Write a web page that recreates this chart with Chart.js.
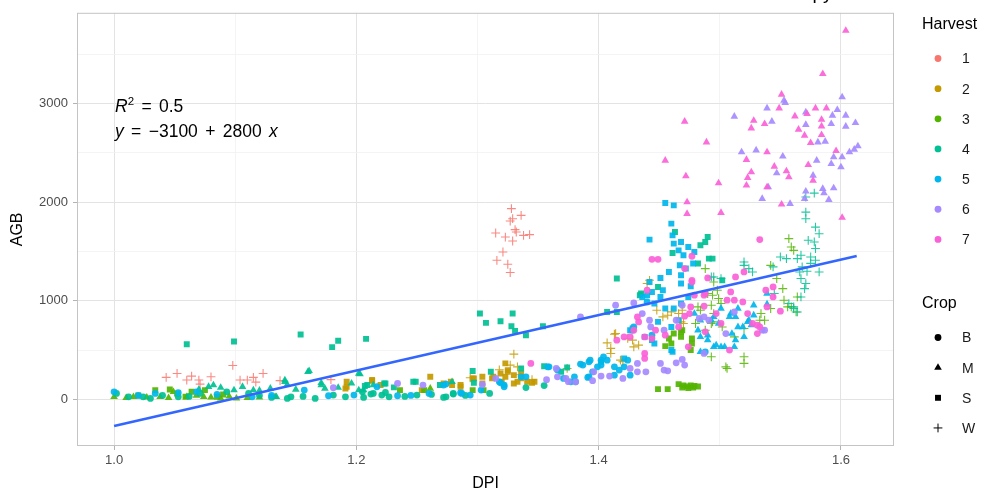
<!DOCTYPE html>
<html>
<head>
<meta charset="utf-8">
<script src="https://cdn.jsdelivr.net/npm/chart.js@4/dist/chart.umd.min.js"></script>
<style>
  html, body { margin: 0; padding: 0; background: #fff; overflow: hidden; }
  #wrap { position: relative; width: 995px; height: 496px; }
  #anno { position: absolute; left: 115px; top: 94px; font: 17.5px 'Liberation Sans', Arial, sans-serif; line-height: 25px; word-spacing: 2.5px; color: #000; }
  #anno sup { font-size: 11.5px; vertical-align: 7px; line-height: 0; }
  #title { position: absolute; left: 767px; top: -18px; font: 19px 'Liberation Sans', Arial, sans-serif; color: #000; white-space: nowrap; }
</style>
</head>
<body>
<div id="wrap">
  <canvas id="agbChart" width="995" height="496"></canvas>
  <div id="title">Canopy</div>
  <div id="anno"><i>R</i><sup>2</sup> = 0.5<br><i>y</i> = &minus;3100 + 2800 <i>x</i></div>
</div>
<script>
document.addEventListener('DOMContentLoaded', function() {

    // ==========================================
    // 1. DATA  (DPI, AGB) per harvest / crop
    // ==========================================
    const harvestColors = ['#F8766D', '#C49A00', '#53B400', '#00C094', '#00B6EB', '#A58AFF', '#FB61D7'];
    const harvestLabels = ['1', '2', '3', '4', '5', '6', '7'];
    const cropLabels = ['B', 'M', 'S', 'W'];

    const xMajorTicks = [1.0, 1.2, 1.4, 1.6];
    const xMinorTicks = [1.1, 1.3, 1.5];
    const yMajorTicks = [0, 1000, 2000, 3000];
    const yMinorTicks = [500, 1500, 2500, 3500];

    const h1W = [[1.043,223],[1.052,263],[1.060,196],[1.064,236],[1.070,196],[1.071,155],[1.080,229],[1.098,344],[1.104,196],[1.110,196],[1.115,223],[1.117,175],[1.123,263],[1.137,190],[1.179,200],
        [1.328,1935],[1.329,1833],[1.336,1867],[1.327,1809],[1.331,1722],[1.332,1698],[1.315,1688],[1.323,1647],[1.329,1607],[1.338,1664],[1.343,1671],[1.321,1495],[1.316,1411],[1.325,1371],[1.327,1287]];

    const h2S = [[1.192,128],[1.213,188],[1.220,145],[1.261,229],[1.272,162],[1.278,178],[1.286,128],[1.296,212],[1.304,162],[1.313,229],[1.279,145],[1.286,145],[1.297,213],[1.312,213],[1.319,263],[1.325,280],[1.330,246],[1.336,213],[1.341,178],[1.345,168],[1.330,162],[1.320,178],[1.323,365],[1.325,297],[1.333,178],[1.347,178],[1.323,229],[1.336,263],[1.304,229],[1.192,178],[1.191,111],[1.213,196],[1.254,94]];
    const h2W = [[1.294,219],[1.330,459],[1.327,348],[1.333,330],[1.318,300],[1.374,314],[1.407,573],[1.413,661],[1.410,466],[1.410,517],[1.418,398],[1.420,381],[1.424,618],[1.428,601],[1.429,533],[1.433,550],[1.442,1208],[1.440,1175],[1.448,905],[1.453,837],[1.457,854],[1.460,888],[1.466,871],[1.469,905],[1.470,770],[1.468,786],[1.414,668],[1.335,250],[1.345,200]];

    const h3S = [[1.034,94],[1.046,101],[1.059,26],[1.064,77],[1.075,94],[1.085,26],[1.052,60],[1.236,94],[1.256,94],[1.296,94],[1.305,94],[1.020,40],[1.090,50],
        [1.449,104],[1.457,104],[1.466,155],[1.470,140],[1.473,130],[1.476,140],[1.479,135],[1.469,120],[1.474,115],[1.478,120],[1.482,130],
        [1.460,567],[1.458,618],[1.468,685],[1.476,500],[1.477,567],[1.468,634],[1.462,668],[1.469,702],[1.477,618],[1.455,540]];
    const h3M = [[1.000,26],[1.016,26],[1.038,26],[1.049,77],[1.060,26],[1.074,26],[1.088,10],[1.101,10],[1.133,26],[1.261,111],[1.010,15],[1.027,20],[1.045,15],[1.068,40],[1.080,20],[1.095,30],[1.120,20],[1.110,15]];
    const h3W = [[1.557,1631],[1.559,1546],[1.561,1512],[1.547,1226],[1.552,1124],[1.564,1039],[1.553,1006],[1.559,938],[1.563,887],[1.534,871],[1.533,803],[1.542,922],[1.520,432],[1.505,330],[1.493,432],[1.494,786],[1.499,1023],[1.488,1327],[1.512,634],[1.520,719],[1.495,871],[1.502,735],[1.498,1107],[1.494,1057],[1.493,955],[1.501,972],[1.484,905],[1.480,770],[1.493,770],[1.488,702],[1.506,314],[1.520,365],[1.495,1191],[1.490,1074],[1.537,803],[1.542,1360],[1.556,938],[1.482,938]];

    const h4B = [[1.002,60],[1.012,26],[1.024,26],[1.030,10],[1.053,26],[1.071,60],[1.093,77],[1.111,60],[1.146,26],[1.143,10],[1.166,10],[1.191,26],[1.205,77],[1.214,60],[1.221,44],[1.224,70],[1.250,44],[1.181,44],[1.206,20],[1.212,54],[1.227,26],[1.274,26],[1.280,60],[1.040,40],[1.062,30],[1.120,40],[1.130,20],[1.156,30],[1.240,30],[1.262,50],[1.290,40],[1.310,60],[1.340,120],[1.355,140],[1.272,20],[1.280,54]];
    const h4M = [[1.078,128],[1.082,145],[1.099,94],[1.106,128],[1.115,94],[1.129,111],[1.141,178],[1.143,150],[1.160,280],[1.171,145],[1.174,111],[1.196,162],[1.202,263],[1.214,145],[1.206,94],[1.279,178],[1.134,26],[1.161,290],[1.171,168],[1.141,196],[1.203,256],[1.202,94],[1.070,100],[1.088,120],[1.120,90],[1.150,100],[1.185,120]];
    const h4S = [[1.060,560],[1.099,587],[1.154,658],[1.180,530],[1.185,594],[1.208,614],[1.207,135],[1.224,162],[1.231,122],[1.247,178],[1.302,871],[1.307,776],[1.319,793],[1.329,871],[1.328,742],[1.331,695],[1.340,651],[1.354,742],[1.296,287],[1.311,280],[1.336,314],[1.355,337],[1.374,324],[1.297,168],[1.369,280],[1.415,1226],[1.407,887],[1.415,887],[1.435,1074],[1.434,1057],[1.449,1141],[1.461,1485],[1.463,1698],[1.484,1563],[1.488,1597],[1.490,1647],[1.494,1428],[1.482,1378],[1.502,1208],[1.402,381],[1.491,1428],[1.249,178],[1.269,145],[1.209,145],[1.223,162]];
    const h4W = [[1.571,1900],[1.571,1833],[1.579,1748],[1.582,1681],[1.573,1614],[1.578,1597],[1.579,1530],[1.579,1411],[1.575,1445],[1.567,1462],[1.564,1428],[1.568,1344],[1.566,1293],[1.567,1226],[1.571,1175],[1.570,1124],[1.582,1293],[1.555,1428],[1.550,1445],[1.544,1344],[1.567,1039],[1.557,972],[1.561,938],[1.520,1394],[1.524,1327],[1.527,1293],[1.495,1242],[1.578,2093],[1.571,2053],[1.561,922],[1.564,887],[1.493,1242],[1.501,1226],[1.520,1360],[1.545,1074],[1.572,1300],[1.575,1380]];

    const h5B = [[1.000,77],[1.034,60],[1.053,67],[1.068,77],[1.114,26],[1.157,94],[1.177,37],[1.198,44],[1.217,128],[1.234,37],[1.272,145],[1.287,60],[1.294,44],[1.303,94],[1.318,178],[1.274,155],[1.286,67],[1.319,168],[1.322,128],[1.340,229],[1.359,330],[1.366,297],[1.381,178],[1.385,358],[1.391,223],[1.393,398],[1.399,330],[1.387,348],[1.380,229],[1.392,229],[1.402,348],[1.413,330],[1.417,297],[1.426,246],[1.377,178],[1.371,213],[1.358,330],[1.402,398],[1.407,398],[1.322,145],[1.336,229],[1.428,702],[1.444,651],[1.392,381],[1.395,280],[1.404,432],[1.421,330],[1.424,398],[1.413,246],[1.429,735],[1.440,989],[1.488,482],[1.020,40],[1.085,50],[1.130,40],[1.245,40],[1.260,60]];
    const h5M = [[1.539,1074],[1.539,965],[1.528,955],[1.528,854],[1.515,922],[1.513,837],[1.508,837],[1.501,922],[1.499,770],[1.493,803],[1.490,651],[1.497,550],[1.504,533],[1.513,601],[1.519,735],[1.524,803],[1.526,753],[1.515,735],[1.510,668],[1.512,533],[1.520,634],[1.484,634],[1.484,482],[1.495,533],[1.501,533],[1.495,837],[1.509,871],[1.523,786],[1.484,803],[1.482,702],[1.490,601],[1.479,871]];
    const h5S = [[1.455,1992],[1.462,1968],[1.460,1783],[1.442,1621],[1.461,1664],[1.462,1580],[1.468,1597],[1.466,1512],[1.470,1462],[1.474,1546],[1.479,1495],[1.478,1378],[1.467,1360],[1.472,1327],[1.458,1293],[1.451,1232],[1.468,1259],[1.468,1175],[1.476,1148],[1.442,1191],[1.444,1090],[1.453,1107],[1.451,1039],[1.440,1057],[1.436,1039],[1.474,1039],[1.446,972],[1.468,972],[1.462,922],[1.455,922],[1.466,803],[1.449,786],[1.460,735],[1.428,719],[1.438,634],[1.444,601],[1.446,567],[1.461,482],[1.421,415],[1.426,702],[1.460,500]];

    const h6B = [[1.181,118],[1.234,162],[1.255,145],[1.304,152],[1.315,213],[1.365,314],[1.366,229],[1.381,178],[1.402,236],[1.409,236],[1.420,213],[1.426,314],[1.432,280],[1.439,280],[1.432,365],[1.451,365],[1.454,297],[1.464,371],[1.469,405],[1.471,348],[1.385,837],[1.414,955],[1.429,979],[1.436,871],[1.443,735],[1.454,702],[1.464,803],[1.469,955],[1.483,821],[1.512,887],[1.537,702],[1.442,803],[1.491,803],[1.373,213],[1.396,280],[1.487,837],[1.505,668],[1.535,702],[1.487,466],[1.357,200],[1.375,180],[1.395,190],[1.457,290]];
    const h6M = [[1.554,3009],[1.553,3032],[1.601,3066],[1.539,2954],[1.512,2870],[1.543,2819],[1.571,2913],[1.597,2938],[1.593,2880],[1.604,2880],[1.571,2786],[1.592,2796],[1.604,2769],[1.612,2806],[1.581,2609],[1.587,2617],[1.518,2508],[1.530,2528],[1.552,2465],[1.580,2424],[1.594,2458],[1.601,2458],[1.607,2508],[1.611,2535],[1.614,2569],[1.592,2390],[1.600,2356],[1.547,2296],[1.577,2272],[1.540,2154],[1.571,2110],[1.585,2137],[1.594,2144],[1.586,2093],[1.535,2036],[1.558,1985],[1.570,2036],[1.590,2026]];

    const h7B = [[1.444,1421],[1.449,1421],[1.440,1107],[1.471,1327],[1.477,1208],[1.490,1232],[1.477,1452],[1.487,1057],[1.476,938],[1.471,844],[1.466,735],[1.447,702],[1.455,651],[1.432,837],[1.429,702],[1.421,634],[1.415,601],[1.426,634],[1.438,634],[1.438,466],[1.438,415],[1.474,533],[1.488,685],[1.497,871],[1.533,1621],[1.513,1242],[1.520,1293],[1.509,1090],[1.506,1006],[1.519,989],[1.538,1107],[1.544,1141],[1.544,1039],[1.539,938],[1.550,895],[1.527,770],[1.533,735],[1.531,668],[1.508,500],[1.488,1074],[1.487,945],[1.501,770],[1.477,1191],[1.479,1057],[1.475,871],[1.433,786],[1.444,618],[1.344,365],[1.512,1006],[1.523,871],[1.531,753]];
    const h7M = [[1.604,3741],[1.585,3302],[1.551,3093],[1.549,2954],[1.471,2819],[1.528,2829],[1.526,2751],[1.537,2796],[1.562,2873],[1.572,2897],[1.579,2954],[1.588,2954],[1.584,2839],[1.584,2771],[1.565,2738],[1.570,2677],[1.584,2684],[1.575,2603],[1.489,2609],[1.455,2424],[1.522,2431],[1.539,2508],[1.596,2522],[1.545,2363],[1.555,2316],[1.557,2255],[1.526,2306],[1.523,2249],[1.573,2380],[1.472,2265],[1.499,2194],[1.522,2171],[1.539,2154],[1.577,2221],[1.473,2002],[1.551,1978],[1.501,1894],[1.601,1844],[1.473,1884]];

    // fitted line at its two ends
    const fitLine = [[1.0,-270],[1.613,1455]];

    const series = [
        { h: 1, crop: 'W', pts: h1W },
        { h: 2, crop: 'S', pts: h2S }, { h: 2, crop: 'W', pts: h2W },
        { h: 3, crop: 'S', pts: h3S }, { h: 3, crop: 'M', pts: h3M }, { h: 3, crop: 'W', pts: h3W },
        { h: 4, crop: 'B', pts: h4B }, { h: 4, crop: 'M', pts: h4M }, { h: 4, crop: 'S', pts: h4S }, { h: 4, crop: 'W', pts: h4W },
        { h: 5, crop: 'B', pts: h5B }, { h: 5, crop: 'M', pts: h5M }, { h: 5, crop: 'S', pts: h5S },
        { h: 6, crop: 'B', pts: h6B }, { h: 6, crop: 'M', pts: h6M },
        { h: 7, crop: 'B', pts: h7B }, { h: 7, crop: 'M', pts: h7M }
    ];

    // ==========================================
    // 2. STYLE
    // ==========================================
    const FONT = "'Liberation Sans', Arial, sans-serif";
    const cropStyle = { B: 'circle', M: 'triangle', S: 'rect', W: 'cross' };
    const cropRadius = { B: 3.4, M: 4.4, S: 4.2, W: 4.4 };

    function withAlpha(hex, a) {
        const n = parseInt(hex.slice(1), 16);
        return `rgba(${n >> 16},${(n >> 8) & 255},${n & 255},${a})`;
    }

    const datasets = series.map(s => {
        const col = harvestColors[s.h - 1];
        const isCross = s.crop === 'W';
        return {
            label: `H${s.h} ${s.crop}`,
            data: s.pts.map(p => ({ x: p[0], y: p[1] })),
            pointStyle: cropStyle[s.crop],
            pointRadius: cropRadius[s.crop],
            backgroundColor: withAlpha(col, 0.92),
            borderColor: isCross ? withAlpha(col, 0.85) : 'rgba(0,0,0,0)',
            borderWidth: isCross ? 1.1 : 0,
            order: 10 - s.h
        };
    });

    datasets.push({
        type: 'line',
        label: 'fit',
        data: fitLine.map(p => ({ x: p[0], y: p[1] })),
        borderColor: '#3366FF',
        borderWidth: 2.6,
        pointRadius: 0,
        showLine: true,
        order: -1
    });

    // ==========================================
    // 3. PLUGINS: panel border + legends
    // ==========================================
    const panelBorder = {
        id: 'panelBorder',
        afterDatasetsDraw(chart) {
            const a = chart.chartArea, c = chart.ctx;
            c.save();
            c.strokeStyle = '#c4c4c4';
            c.lineWidth = 1;
            c.strokeRect(a.left + 0.5, a.top + 0.5, a.right - a.left - 1, a.bottom - a.top - 1);
            c.restore();
        }
    };

    function drawSymbol(c, style, x, y, r) {
        c.beginPath();
        if (style === 'circle') {
            c.arc(x, y, r, 0, Math.PI * 2);
            c.fill();
        } else if (style === 'triangle') {
            c.moveTo(x, y - r);
            c.lineTo(x + r * 0.866, y + r * 0.5);
            c.lineTo(x - r * 0.866, y + r * 0.5);
            c.closePath();
            c.fill();
        } else if (style === 'rect') {
            const s = r * Math.SQRT1_2;
            c.fillRect(x - s, y - s, 2 * s, 2 * s);
        } else {
            c.moveTo(x - r, y); c.lineTo(x + r, y);
            c.moveTo(x, y - r); c.lineTo(x, y + r);
            c.stroke();
        }
    }

    const legends = {
        id: 'legends',
        afterDraw(chart) {
            const c = chart.ctx;
            c.save();
            c.textBaseline = 'middle';
            c.textAlign = 'left';
            c.fillStyle = '#000';
            c.font = `16px ${FONT}`;
            c.fillText('Harvest', 922, 25);
            harvestLabels.forEach((lab, i) => {
                const y = 58.5 + i * 30.15;
                c.fillStyle = harvestColors[i];
                drawSymbol(c, 'circle', 938, y, 3.4);
                c.fillStyle = '#1a1a1a';
                c.font = `14px ${FONT}`;
                c.fillText(lab, 962, y + 1);
            });
            c.fillStyle = '#000';
            c.font = `16px ${FONT}`;
            c.fillText('Crop', 922, 304);
            cropLabels.forEach((lab, i) => {
                const y = 337.5 + i * 30.15;
                c.fillStyle = '#000';
                c.strokeStyle = '#000';
                c.lineWidth = 1;
                drawSymbol(c, cropStyle[lab], 938, y, cropRadius[lab]);
                c.fillStyle = '#1a1a1a';
                c.font = `14px ${FONT}`;
                c.fillText(lab, 962, y + 1);
            });
            c.restore();
        }
    };

    // ==========================================
    // 4. CHART
    // ==========================================
    const isIn = (arr, v) => arr.some(t => Math.abs(t - v) < 1e-9);

    new Chart(document.getElementById('agbChart'), {
        type: 'scatter',
        data: { datasets },
        options: {
            responsive: false,
            animation: false,
            layout: { padding: { top: 12, right: 101, left: 0, bottom: 0 } },
            plugins: { legend: { display: false }, tooltip: { enabled: false } },
            scales: {
                x: {
                    type: 'linear',
                    min: 0.9694,
                    max: 1.6438,
                    afterBuildTicks: s => { s.ticks = xMajorTicks.concat(xMinorTicks).sort().map(v => ({ value: v })); },
                    afterFit: s => { s.height = 50; },
                    border: { display: false },
                    grid: {
                        color: ctx => isIn(xMajorTicks, ctx.tick.value) ? '#e3e3e3' : '#f1f1f1',
                        lineWidth: ctx => isIn(xMajorTicks, ctx.tick.value) ? 1 : 0.8,
                        tickLength: 4,
                        tickColor: ctx => isIn(xMajorTicks, ctx.tick.value) ? '#b3b3b3' : 'rgba(0,0,0,0)'
                    },
                    ticks: {
                        autoSkip: false,
                        maxRotation: 0,
                        padding: 3,
                        color: '#4d4d4d',
                        font: { family: FONT, size: 13 },
                        callback: v => isIn(xMajorTicks, v) ? v.toFixed(1) : ''
                    },
                    title: { display: true, text: 'DPI', color: '#000', font: { family: FONT, size: 16 }, padding: { top: 0, bottom: 3 } }
                },
                y: {
                    type: 'linear',
                    min: -473,
                    max: 3922,
                    afterBuildTicks: s => { s.ticks = yMajorTicks.concat(yMinorTicks).sort((a, b) => a - b).map(v => ({ value: v })); },
                    afterFit: s => { s.width = 77; },
                    border: { display: false },
                    grid: {
                        color: ctx => isIn(yMajorTicks, ctx.tick.value) ? '#e3e3e3' : '#f1f1f1',
                        lineWidth: ctx => isIn(yMajorTicks, ctx.tick.value) ? 1 : 0.8,
                        tickLength: 4,
                        tickColor: ctx => isIn(yMajorTicks, ctx.tick.value) ? '#b3b3b3' : 'rgba(0,0,0,0)'
                    },
                    ticks: {
                        autoSkip: false,
                        padding: 5,
                        color: '#4d4d4d',
                        font: { family: FONT, size: 13 },
                        callback: v => isIn(yMajorTicks, v) ? String(v) : ''
                    },
                    title: { display: true, text: 'AGB', color: '#000', font: { family: FONT, size: 16 }, padding: { top: 8, bottom: 0 } }
                }
            }
        },
        plugins: [panelBorder, legends]
    });
});
</script>
</body>
</html>
